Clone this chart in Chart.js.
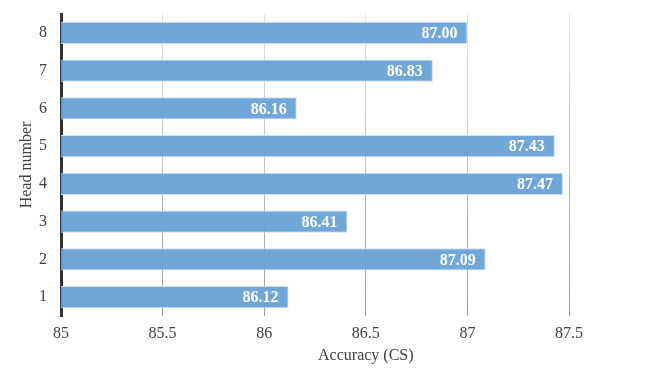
<!DOCTYPE html>
<html>
<head>
<meta charset="utf-8">
<script src="https://cdn.jsdelivr.net/npm/chart.js@4/dist/chart.umd.min.js"></script>
<style>
  html, body { margin: 0; padding: 0; background: #fff; }
  #wrap { width: 659px; height: 383px; }
</style>
</head>
<body>
<div id="wrap"><canvas id="headChart"></canvas></div>
<script>
/* ================================
   Data
================================ */
const headLabels = ["8", "7", "6", "5", "4", "3", "2", "1"];
const accuracyValues = [87.00, 86.83, 86.16, 87.43, 87.47, 86.41, 87.09, 86.12];
const xTicks = [85, 85.5, 86, 86.5, 87, 87.5];

const xTitle = "Accuracy (CS)";
const yTitle = "Head number";

/* ================================
   Plugins
================================ */
// value labels at the end of each bar
const barValueLabels = {
  id: "barValueLabels",
  afterDatasetsDraw(chart) {
    const { ctx } = chart;
    const meta = chart.getDatasetMeta(0);
    ctx.save();
    ctx.font = "bold 16px 'Liberation Serif'";
    ctx.fillStyle = "#ffffff";
    ctx.textAlign = "right";
    ctx.textBaseline = "middle";
    meta.data.forEach((bar, i) => {
      ctx.fillText(accuracyValues[i].toFixed(2), bar.x - 10, bar.y + 1);
    });
    ctx.restore();
  }
};

// x axis title, centred under the 86.5 tick like the original
const xAxisTitle = {
  id: "xAxisTitle",
  afterDraw(chart) {
    const { ctx, scales } = chart;
    ctx.save();
    ctx.font = "16px 'Liberation Serif'";
    ctx.fillStyle = "#404040";
    ctx.textAlign = "center";
    ctx.textBaseline = "middle";
    ctx.fillText(xTitle, scales.x.getPixelForValue(86.5), 356);
    ctx.restore();
  }
};

function gridGradient(context) {
  const chart = context.chart;
  const area = chart.chartArea;
  if (!area) return "#cccccc";
  const g = chart.ctx.createLinearGradient(0, area.top, 0, area.bottom);
  g.addColorStop(0, "#e4e4e4");
  g.addColorStop(1, "#9c9c9c");
  return g;
}

/* ================================
   Chart
================================ */
Chart.defaults.font.family = "'Liberation Serif'";
Chart.defaults.font.size = 16;
Chart.defaults.color = "#404040";

new Chart(document.getElementById("headChart"), {
  type: "bar",
  data: {
    labels: headLabels,
    datasets: [{
      data: accuracyValues,
      backgroundColor: "rgba(104,162,214,0.95)",
      borderColor: "#cfe0f2",
      borderWidth: 1,
      barPercentage: 0.59,
      categoryPercentage: 1
    }]
  },
  options: {
    indexAxis: "y",
    responsive: true,
    maintainAspectRatio: false,
    animation: false,
    layout: { padding: { top: 14, right: 90, left: 0, bottom: 0 } },
    plugins: {
      legend: { display: false },
      tooltip: { enabled: false }
    },
    scales: {
      x: {
        min: 85,
        max: 87.5,
        afterBuildTicks: scale => {
          scale.ticks = xTicks.map(v => ({ value: v }));
        },
        afterFit: scale => {
          scale.height = 67;
          scale.paddingLeft = 0;
          scale.paddingRight = 0;
        },
        ticks: { padding: 8, maxRotation: 0, callback: v => String(v) },
        grid: { color: gridGradient, lineWidth: 1, drawTicks: false },
        border: { display: false }
      },
      y: {
        z: 1,
        afterFit: scale => {
          scale.width = 61;
          scale.paddingTop = 0;
          scale.paddingBottom = 0;
        },
        ticks: { padding: 14 },
        grid: { display: false, drawTicks: false },
        border: { display: true, color: "#333333", width: 3 },
        title: {
          display: true,
          text: yTitle,
          padding: { top: 17, bottom: 0 }
        }
      }
    }
  },
  plugins: [barValueLabels, xAxisTitle]
});
</script>
</body>
</html>
